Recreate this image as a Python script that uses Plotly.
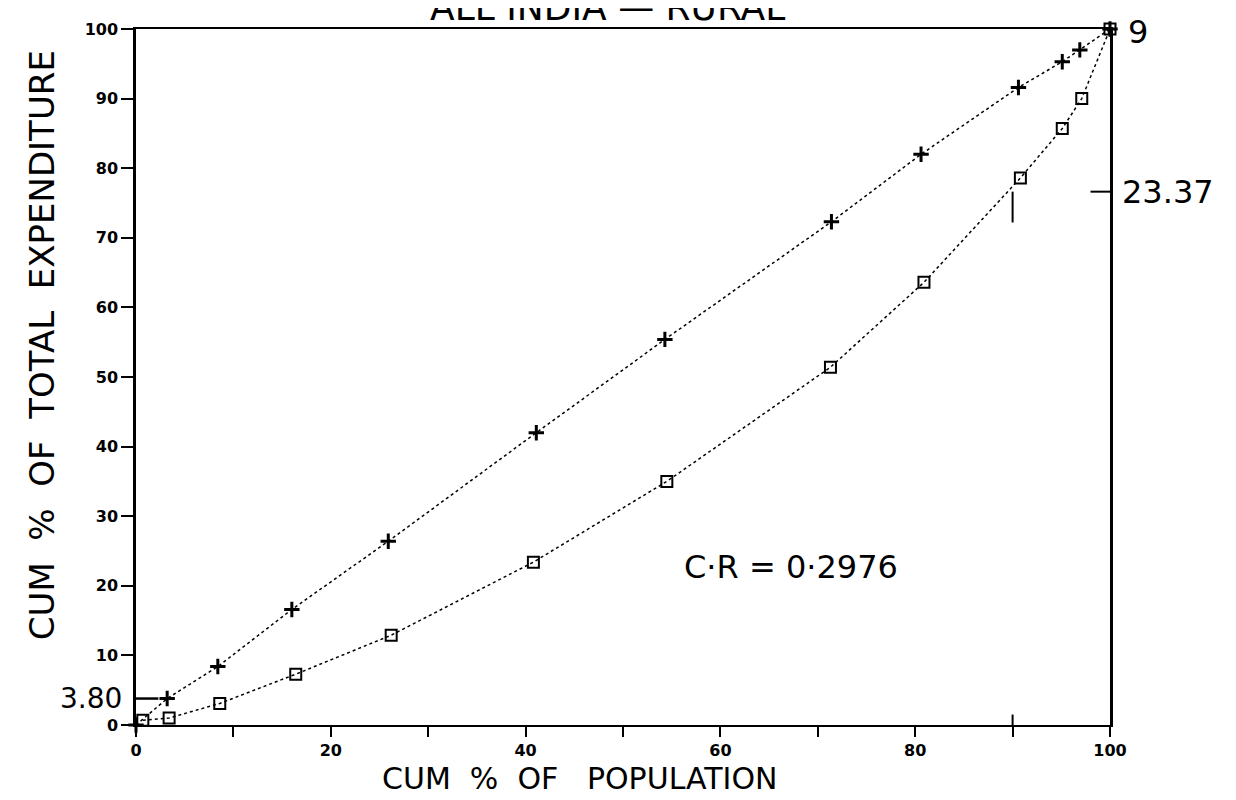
import plotly.graph_objects as go

# Cumulative % of population (x) and cumulative % of total expenditure (y)
pop_plus = [0, 3.2, 8.4, 16.0, 25.9, 41.1, 54.3, 71.4, 80.6, 90.6, 95.1, 96.9, 100]
exp_plus = [0, 3.8, 8.4, 16.6, 26.4, 42.0, 55.4, 72.3, 82.0, 91.6, 95.3, 97.0, 100]

pop_sq = [0.7, 3.4, 8.6, 16.4, 26.2, 40.8, 54.5, 71.3, 80.9, 90.8, 95.1, 97.1, 100]
exp_sq = [0.7, 1.0, 3.1, 7.3, 12.9, 23.4, 35.0, 51.4, 63.6, 78.6, 85.7, 90.0, 100]

x_tickvals = [0, 10, 20, 30, 40, 50, 60, 70, 80, 90, 100]
x_ticktext = ["0", "", "20", "", "40", "", "60", "", "80", "", "100"]
y_tickvals = [0, 10, 20, 30, 40, 50, 60, 70, 80, 90, 100]
y_ticktext = ["0", "10", "20", "30", "40", "50", "60", "70", "80", "90", "100"]

hand_font = dict(family="DejaVu Sans", color="black")

fig = go.Figure()
fig.add_trace(go.Scatter(
    x=pop_plus, y=exp_plus, mode="lines+markers",
    line=dict(color="black", width=1.5, dash="dot"),
    marker=dict(symbol="cross-thin-open", size=11, line=dict(color="black", width=3)),
    showlegend=False, cliponaxis=False))
fig.add_trace(go.Scatter(
    x=pop_sq, y=exp_sq, mode="lines+markers",
    line=dict(color="black", width=1.5, dash="dot"),
    marker=dict(symbol="square-open", size=11, color="black", line=dict(color="black", width=2)),
    showlegend=False, cliponaxis=False))

fig.update_layout(
    width=1236, height=800,
    margin=dict(l=128, r=134, t=17, b=83),
    paper_bgcolor="white", plot_bgcolor="white",
    xaxis=dict(range=[0, 100], tickmode="array", tickvals=x_tickvals, ticktext=x_ticktext,
               showgrid=False, zeroline=False, showline=True, mirror=True,
               linecolor="black", linewidth=2, ticks="outside", ticklen=10, tickwidth=2,
               tickcolor="black",
               tickfont=dict(family="DejaVu Sans", size=16, color="black", weight="bold")),
    yaxis=dict(range=[0, 100], tickmode="array", tickvals=y_tickvals, ticktext=y_ticktext,
               showgrid=False, zeroline=False, showline=True, mirror=True,
               linecolor="black", linewidth=2.5, ticks="outside", ticklen=12, tickwidth=2,
               tickcolor="black",
               tickfont=dict(family="DejaVu Sans", size=16, color="black", weight="bold")),
)

# handwritten annotation marks
fig.add_shape(type="line", xref="x", yref="y", x0=0, x1=2.3, y0=3.8, y1=3.8,
              line=dict(color="black", width=2.5))
fig.add_shape(type="line", xref="x", yref="y", x0=98.0, x1=100, y0=76.63, y1=76.63,
              line=dict(color="black", width=2))
fig.add_shape(type="line", xref="x", yref="y", x0=90, x1=90, y0=72.2, y1=76.63,
              line=dict(color="black", width=2))
fig.add_shape(type="line", xref="x", yref="y", x0=90, x1=90, y0=-1.5, y1=1.5,
              line=dict(color="black", width=2))

fig.add_annotation(text="ALL INDIA — RURAL", xref="x", yref="paper", x=48.4, y=1.031,
                   showarrow=False, font=dict(size=36, **hand_font),
                   xanchor="center", yanchor="middle")
fig.add_annotation(text="9", xref="paper", yref="paper", x=1.016, y=0.995,
                   showarrow=False, font=dict(size=32, **hand_font),
                   xanchor="left", yanchor="middle")
fig.add_annotation(text="23.37", xref="paper", yref="y", x=1.010, y=76.6,
                   showarrow=False, font=dict(size=32, **hand_font),
                   xanchor="left", yanchor="middle")
fig.add_annotation(text="3.80", xref="paper", yref="y", x=-0.012, y=3.8,
                   showarrow=False, font=dict(size=28, **hand_font),
                   xanchor="right", yanchor="middle")
fig.add_annotation(text="C·R = 0·2976", xref="x", yref="y", x=67.2, y=22.7,
                   showarrow=False, font=dict(size=32, **hand_font),
                   xanchor="center", yanchor="middle")
fig.add_annotation(text="CUM  %  OF   POPULATION", xref="x", yref="paper", x=45.6, y=-0.077,
                   showarrow=False, font=dict(size=30, **hand_font),
                   xanchor="center", yanchor="middle")
fig.add_annotation(text="CUM  %  OF  TOTAL  EXPENDITURE", xref="paper", yref="paper",
                   x=-0.097, y=0.545, textangle=-90,
                   showarrow=False, font=dict(size=34, **hand_font),
                   xanchor="center", yanchor="middle")

fig.write_html("out.html")
